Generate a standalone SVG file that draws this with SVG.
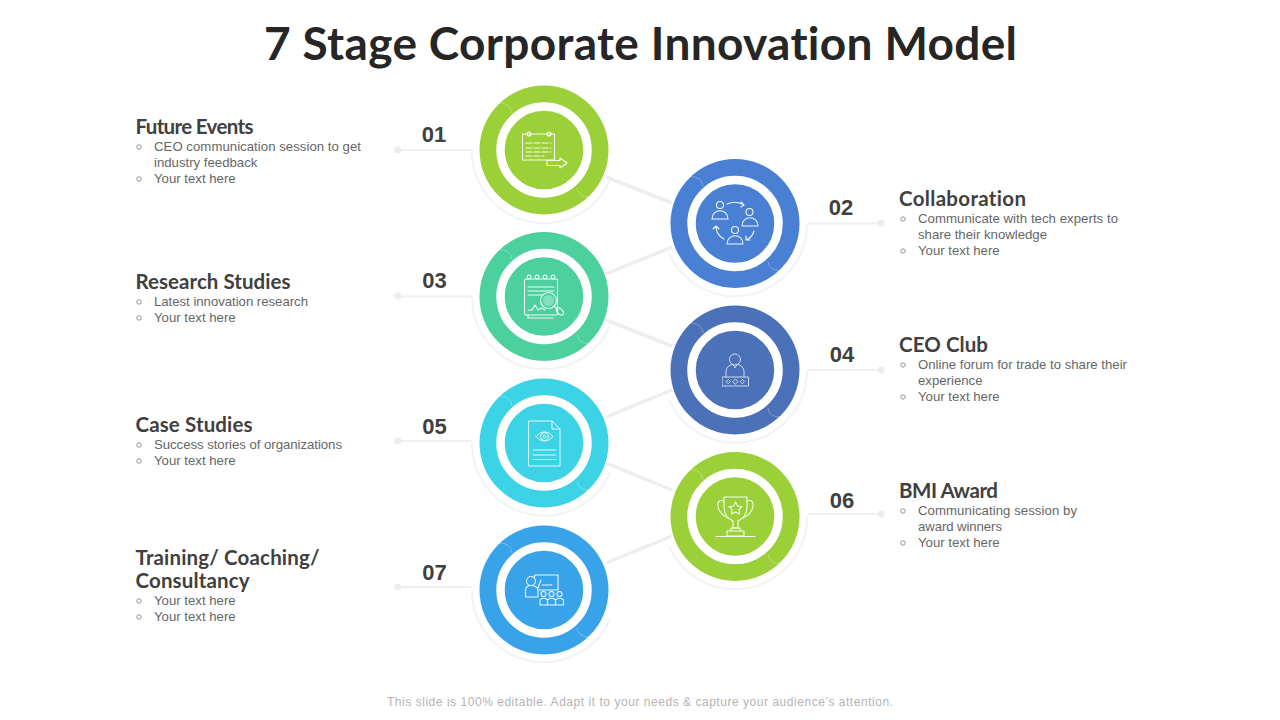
<svg xmlns="http://www.w3.org/2000/svg" width="1280" height="720" viewBox="0 0 1280 720">
<style>
text{font-family:"Liberation Sans",Arial,sans-serif}
.title{font-family:Lato,"Liberation Sans",sans-serif;font-size:46px;font-weight:700;fill:#262626;text-anchor:middle;font-variant-ligatures:none}
.h{font-family:Lato,"Liberation Sans",sans-serif;font-size:20.500px;font-weight:700;fill:#404040;font-variant-ligatures:none}
.b{font-size:13.200px;fill:#666}
.o{fill:none;stroke:#777;stroke-width:.8}
.n{font-size:22px;font-weight:700;fill:#404040;text-anchor:middle}
.halo{fill:none;stroke:#f3f3f3;stroke-width:2}
.lead{fill:none;stroke:#f0f0f0;stroke-width:2}
.dot{fill:#ededed}
.link{fill:none;stroke:#eeeeee;stroke-width:3.500}
.hole{fill:none;stroke:#fff;stroke-width:8.500}
.ic{fill:none;stroke:#fff;stroke-width:1.100;stroke-linejoin:round;stroke-linecap:round;opacity:.92}
.arc{fill:none;stroke:#fff;stroke-width:.8;opacity:.35}
.foot{font-size:12px;fill:#b4b4b4;text-anchor:middle}
</style>
<defs><path id="ticks" d="M-45-47Q-33-47-32-37M33 38Q34 47 45 47"/></defs>
<rect width="1280" height="720" fill="#fff"/>
<text class="title" x="640.500" y="60" textLength="753">7 Stage Corporate Innovation Model</text>
<g id="connectors">
<path class="link" d="M606 177L672 203M606 274L672 247M606 320L672 346M606 417L672 390M606 463L672 490M606 563L672 536"/>
<path class="lead" d="M398 150H472M398 296.500H472M398 441H472M398 587H472M808 223.500H881M808 370H881M808 514H881"/>
<g class="dot"><circle cx="398" cy="150" r="3.500"/><circle cx="398" cy="296" r="3.500"/><circle cx="398" cy="441" r="3.500"/><circle cx="398" cy="587" r="3.500"/><circle cx="881" cy="223" r="3.500"/><circle cx="881" cy="370" r="3.500"/><circle cx="881" cy="514" r="3.500"/></g>
</g>
<g id="node1">
<path class="halo" d="M472 150A72 72 0 0 0 610 180"/>
<circle cx="544" cy="150" r="64.500" fill="#9bd038"/><circle class="hole" cx="544" cy="150" r="43.500"/><use class="arc" href="#ticks" x="544" y="150"/>
<g class="ic"><rect x="522.500" y="134" width="32" height="26"/><circle cx="529" cy="134" r="2"/><circle cx="549" cy="134" r="2"/><path d="M526 143H551M526 148H551M526 152H551M526 156H544" stroke-dasharray="6 2"/><path d="M547 160.500H560V158L567 163L560 168V165.500H547Z"/></g>
<text class="n" x="434" y="142">01</text>
<text class="h" x="135.500" y="134" textLength="118">Future Events</text>
<circle class="o" cx="139" cy="147" r="2.200"/><text class="b" x="154" y="150.500" textLength="207">CEO communication session to get</text>
<text class="b" x="154" y="167">industry feedback</text>
<circle class="o" cx="139" cy="179" r="2.200"/><text class="b" x="154" y="183">Your text here</text>
</g>
<g id="node2">
<path class="halo" d="M807 223.500A72 72 0 0 1 669 253"/>
<circle cx="735" cy="223.500" r="64.500" fill="#4a80d3"/><circle class="hole" cx="735" cy="223.500" r="43.500"/><use class="arc" href="#ticks" x="735" y="223.500"/>
<g class="ic"><circle cx="720" cy="205" r="3.500"/><path d="M712 219C712 208 728 208 728 219Z"/><circle cx="749.500" cy="212" r="3.500"/><path d="M742 226C742 215 758 215 758 226Z"/><circle cx="735" cy="230" r="3.500"/><path d="M727 244C727 233 743 233 743 244Z"/><path d="M727 204Q736 200 744 205M741 202L744 205L741 207M754 231Q752 238 746 240M746 236L746 240L750 240M724 239Q716 235 716 226M713 229L716 226L719 229"/></g>
<text class="n" x="841" y="215">02</text>
<text class="h" x="899" y="206" textLength="127">Collaboration</text>
<circle class="o" cx="903" cy="219" r="2.200"/><text class="b" x="918" y="223" textLength="200">Communicate with tech experts to</text>
<text class="b" x="918" y="239">share their knowledge</text>
<circle class="o" cx="903" cy="251" r="2.200"/><text class="b" x="918" y="255">Your text here</text>
</g>
<g id="node3">
<path class="halo" d="M472 296.500A72 72 0 0 0 610 326"/>
<circle cx="544" cy="296.500" r="64.500" fill="#4cd09e"/><circle class="hole" cx="544" cy="296.500" r="43.500"/><use class="arc" href="#ticks" x="544" y="296.500"/>
<g class="ic"><rect x="524.500" y="279" width="33" height="36" rx="1.500"/><path d="M528 315V318H553M529 279a2 2 0 1 1 .1 0M537 279a2 2 0 1 1 .1 0M545 279a2 2 0 1 1 .1 0M553 279a2 2 0 1 1 .1 0M528 287H554M528 291H554M528 295H544M528 310L532 310L535 305L538 310L541 308L545 310"/><circle cx="548.500" cy="300.500" r="8" fill="#4cd09e"/><circle cx="548.500" cy="300.500" r="5.500" fill="#fff" fill-opacity=".35" stroke="none"/><path d="M554 306L558 310"/><rect x="556" y="309" width="8" height="5" rx="2.500" transform="rotate(45 560 311.500)"/></g>
<text class="n" x="434.500" y="288">03</text>
<text class="h" x="135.500" y="289" textLength="155">Research Studies</text>
<circle class="o" cx="139" cy="302" r="2.200"/><text class="b" x="154" y="306" textLength="154">Latest innovation  research</text>
<circle class="o" cx="139" cy="318" r="2.200"/><text class="b" x="154" y="322">Your text here</text>
</g>
<g id="node4">
<path class="halo" d="M807 370A72 72 0 0 1 669 399.500"/>
<circle cx="735" cy="370" r="64.500" fill="#4b72b8"/><circle class="hole" cx="735" cy="370" r="43.500"/><use class="arc" href="#ticks" x="735" y="370"/>
<g class="ic" style="stroke-width:.9;opacity:.8"><circle cx="735" cy="359.500" r="5.500"/><path d="M726 377V371Q727 365 733 364.500L735 368L737 364.500Q743 365 744 371V377"/><rect x="722.500" y="377" width="26" height="9"/><path d="M726.500 381.500L728.500 379.500L730.500 381.500L728.500 383.500ZM733 381.500L735.500 379L738 381.500L735.500 384ZM740.500 381.500L742.500 379.500L744.500 381.500L742.500 383.500Z"/></g>
<text class="n" x="842" y="362">04</text>
<text class="h" x="899" y="352" textLength="89">CEO Club</text>
<circle class="o" cx="903" cy="365" r="2.200"/><text class="b" x="918" y="369" textLength="209">Online forum for trade to share their</text>
<text class="b" x="918" y="385">experience</text>
<circle class="o" cx="903" cy="397" r="2.200"/><text class="b" x="918" y="401">Your text here</text>
</g>
<g id="node5">
<path class="halo" d="M472 443A72 72 0 0 0 610 472.500"/>
<circle cx="544" cy="443" r="64.500" fill="#3dd3e6"/><circle class="hole" cx="544" cy="443" r="43.500"/><use class="arc" href="#ticks" x="544" y="443"/>
<g class="ic" style="stroke-width:.9"><path d="M529 421H552L560 429V466H529ZM552 421V429H560"/><path d="M536 436.500Q544.500 427 553 436.500Q544.500 446 536 436.500Z"/><circle cx="544.500" cy="436.500" r="4"/><circle cx="544.500" cy="436.500" r="1.500"/><path d="M533 450H556M533 455H556M533 459.500H556"/></g>
<text class="n" x="434.500" y="434">05</text>
<text class="h" x="135.500" y="432" textLength="117">Case Studies</text>
<circle class="o" cx="139" cy="445" r="2.200"/><text class="b" x="154" y="449" textLength="188">Success stories of organizations</text>
<circle class="o" cx="139" cy="461" r="2.200"/><text class="b" x="154" y="465">Your text here</text>
</g>
<g id="node6">
<path class="halo" d="M807 516.500A72 72 0 0 1 669 546"/>
<circle cx="735" cy="516.500" r="64.500" fill="#9bd038"/><circle class="hole" cx="735" cy="516.500" r="43.500"/><use class="arc" href="#ticks" x="735" y="516.500"/>
<g class="ic"><path d="M724 497H747V507Q747 517 738 521V528H733V521Q724 517 724 507Z"/><path d="M724 501Q717 499 718 506Q719 514 728 518M747 501Q754 499 753 506Q752 514 743 518"/><path d="M735.500 502L737.500 506L742 506.500L739 509.500L739.500 514L735.500 512L731.500 514L732 509.500L729 506.500L733.500 506Z"/><path d="M731 528H740V531H731ZM727 531H744V536H727ZM716 536.500H755"/></g>
<text class="n" x="842" y="508">06</text>
<text class="h" x="899" y="498" textLength="99">BMI Award</text>
<circle class="o" cx="903" cy="511" r="2.200"/><text class="b" x="918" y="515" textLength="159">Communicating session by</text>
<text class="b" x="918" y="531" textLength="84">award  winners</text>
<circle class="o" cx="903" cy="543" r="2.200"/><text class="b" x="918" y="547">Your text here</text>
</g>
<g id="node7">
<path class="halo" d="M472 590A72 72 0 0 0 610 619"/>
<circle cx="544" cy="590" r="64.500" fill="#38a3e8"/><circle class="hole" cx="544" cy="590" r="43.500"/><use class="arc" href="#ticks" x="544" y="590"/>
<g class="ic"><circle cx="531" cy="581" r="4.500"/><path d="M525.500 597V590Q526 585.500 531 585.500Q537 585.500 538 590V597ZM534.500 578V575H558V590H538M538 588L541 580M542 585H552"/><circle cx="543.500" cy="594" r="2.500"/><circle cx="551.500" cy="594" r="2.500"/><circle cx="559.500" cy="594" r="2.500"/><path d="M540 605V600Q543.500 596 547.500 600V605ZM547.500 605V600Q551.500 596 555.500 600V605ZM555.500 605V600Q559.500 596 563.500 600V605ZM540 605H563.500"/></g>
<text class="n" x="434.500" y="580">07</text>
<text class="h" x="135.500" y="565" textLength="184">Training/ Coaching/</text>
<text class="h" x="135.500" y="588" textLength="114">Consultancy</text>
<circle class="o" cx="139" cy="601" r="2.200"/><text class="b" x="154" y="605">Your text here</text>
<circle class="o" cx="139" cy="617" r="2.200"/><text class="b" x="154" y="621">Your text here</text>
</g>
<text class="foot" x="640" y="706" textLength="506">This slide is 100% editable. Adapt it to your needs &amp; capture your audience’s attention.</text>
</svg>
